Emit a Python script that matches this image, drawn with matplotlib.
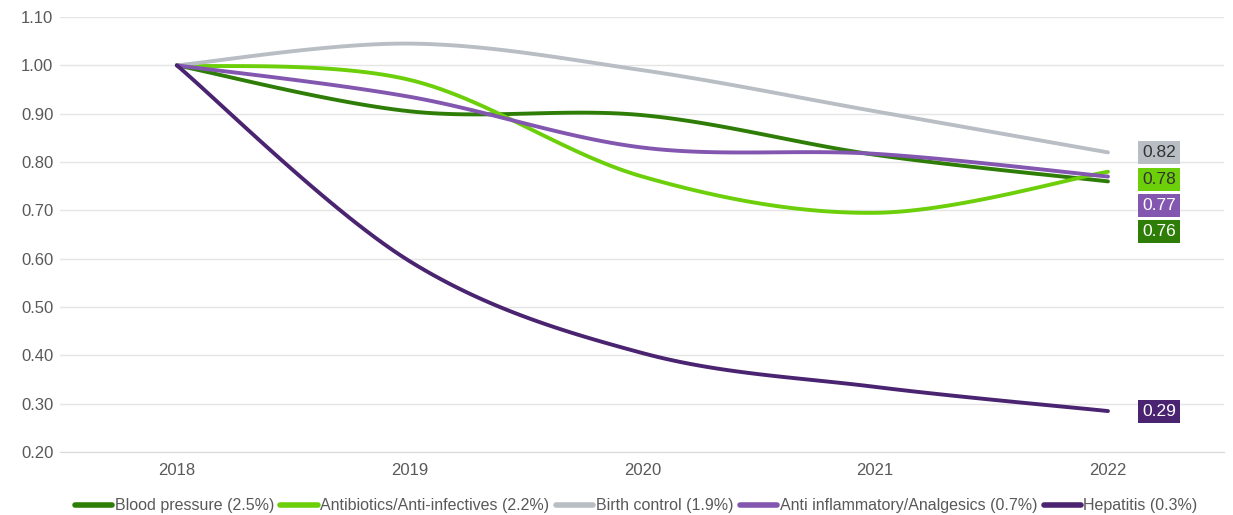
import numpy as np
import matplotlib
matplotlib.use("Agg")
import matplotlib.pyplot as plt
from matplotlib.lines import Line2D

plt.rcParams['font.family'] = ['Liberation Sans', 'DejaVu Sans']

years = ["2018", "2019", "2020", "2021", "2022"]
blood_pressure = [1.00, 0.905, 0.897, 0.815, 0.76]
antibiotics = [1.00, 0.97, 0.77, 0.695, 0.78]
birth_control = [1.00, 1.045, 0.99, 0.905, 0.82]
anti_inflammatory = [1.00, 0.935, 0.83, 0.817, 0.77]
hepatitis = [1.00, 0.595, 0.405, 0.335, 0.285]

series_names = ["Blood pressure (2.5%)", "Antibiotics/Anti-infectives (2.2%)",
                "Birth control (1.9%)", "Anti inflammatory/Analgesics (0.7%)",
                "Hepatitis (0.3%)"]
series_values = [blood_pressure, antibiotics, birth_control, anti_inflammatory, hepatitis]
colors = ["#2E7D07", "#6CCF0A", "#B8BEC4", "#8356B0", "#4A2470"]
end_labels = ["0.76", "0.78", "0.82", "0.77", "0.29"]
label_y = [0.656, 0.764, 0.82, 0.710, 0.284]
label_text_colors = ["white", "#333333", "#333333", "white", "white"]


def smooth(xs, ys, n=30):
    xs = np.asarray(xs, float)
    ys = np.asarray(ys, float)
    px = np.concatenate([[xs[0]], xs, [xs[-1]]])
    py = np.concatenate([[ys[0]], ys, [ys[-1]]])
    outx, outy = [], []
    for i in range(1, len(px) - 2):
        p0 = np.array([px[i - 1], py[i - 1]])
        p1 = np.array([px[i], py[i]])
        p2 = np.array([px[i + 1], py[i + 1]])
        p3 = np.array([px[i + 2], py[i + 2]])
        c1 = p1 + (p2 - p0) / 6
        c2 = p2 - (p3 - p1) / 6
        t = np.linspace(0, 1, n)[:, None]
        b = ((1 - t) ** 3) * p1 + 3 * ((1 - t) ** 2) * t * c1 + 3 * (1 - t) * t ** 2 * c2 + t ** 3 * p2
        outx.extend(b[:, 0])
        outy.extend(b[:, 1])
    return np.array(outx), np.array(outy)


fig = plt.figure(figsize=(12.33, 5.15), dpi=100)
ax = fig.add_axes([0.049, 0.122, 0.944, 0.845])

x = np.arange(len(years))
handles = []
for name, vals, c in zip(series_names, series_values, colors):
    sx, sy = smooth(x, vals)
    ax.plot(sx, sy, color=c, lw=2.8, solid_capstyle='round')
    handles.append(Line2D([], [], color=c, lw=4, solid_capstyle='round', label=name))

for vals, c, lab, ly, tc in zip(series_values, colors, end_labels, label_y, label_text_colors):
    ax.text(4.22, ly, lab, ha='center', va='center', fontsize=12.5, color=tc,
            bbox=dict(boxstyle='square,pad=0.22', facecolor=c, edgecolor='none'))

ax.set_xlim(-0.5, 4.5)
ax.set_ylim(0.20, 1.10)
ax.set_xticks(x)
ax.set_xticklabels(years)
ax.set_yticks(np.arange(0.2, 1.1001, 0.1))
ax.set_yticklabels([f"{v:.2f}" for v in np.arange(0.2, 1.1001, 0.1)])
ax.tick_params(axis='both', length=0, labelsize=12, colors='#595959')
ax.tick_params(axis='y', pad=5)
ax.tick_params(axis='x', pad=8)
ax.grid(axis='y', color='#E5E5E5', lw=1)
ax.set_axisbelow(True)
for s in ['top', 'right', 'left']:
    ax.spines[s].set_visible(False)
ax.spines['bottom'].set_color('#D9D9D9')

fig.legend(handles=handles, loc='center', bbox_to_anchor=(0.516, 0.018), ncol=5, frameon=False,
           fontsize=11.5, handlelength=2.35, handletextpad=0.15, columnspacing=0.4,
           labelcolor='#595959', borderpad=0, borderaxespad=0)

fig.savefig("out.png", dpi=100)
